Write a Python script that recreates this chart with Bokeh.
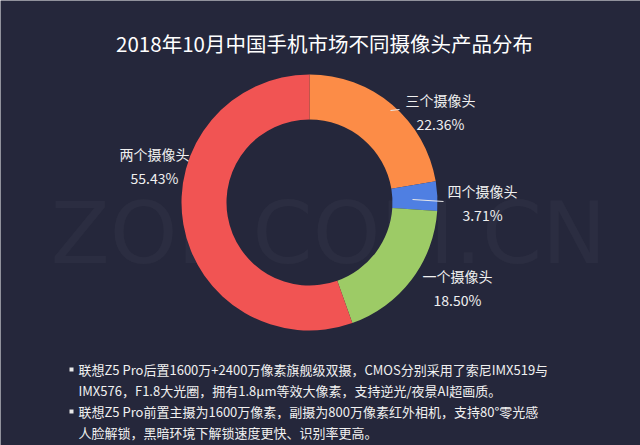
import numpy as np
from bokeh.plotting import figure
from bokeh.models import Range1d, ColumnDataSource
from bokeh.core.properties import value
from bokeh.embed import file_html
from bokeh.resources import INLINE

# ---------------- data ----------------
title = "2018年10月中国手机市场不同摄像头产品分布"
categories = ["三个摄像头", "四个摄像头", "一个摄像头", "两个摄像头"]
shares = [22.36, 3.71, 18.50, 55.43]
colors = ["#fc8c47", "#4f7fe2", "#9dcb66", "#f15453"]
notes = [
    "联想Z5 Pro后置1600万+2400万像素旗舰级双摄，CMOS分别采用了索尼IMX519与",
    "IMX576，F1.8大光圈，拥有1.8μm等效大像素，支持逆光/夜景AI超画质。",
    "联想Z5 Pro前置主摄为1600万像素，副摄为800万像素红外相机，支持80°零光感",
    "人脸解锁，黑暗环境下解锁速度更快、识别率更高。",
]
note_bullet = [True, False, True, False]
watermark = "ZOL.COM.CN"

# ---------------- layout (screen pixels) ----------------
W, H = 640, 445
BG = "#25273b"
CJK = "Noto Sans CJK SC"
cx, cy = 309, 202
r_out, r_in = 128, 83
# label block centres (x, y) per category
label_xy = [(440, 111), (482, 202), (457, 287), (154, 165)]
label_gap = 12
# leader lines per category ((x0, y0), (x1, y1)) or None
leaders = [((390, 110), (399, 109)), ((412, 199), (443, 201)), None, None]


def Y(y):
    return H - y


p = figure(width=W, height=H, x_range=Range1d(0, W), y_range=Range1d(0, H),
           output_backend="svg", toolbar_location=None, min_border=0)
p.axis.visible = False
p.grid.visible = False
p.outline_line_color = None
p.background_fill_color = BG
p.border_fill_color = BG

# watermark
p.text(x=[328], y=[Y(232)], text=[watermark], text_font=value("DejaVu Sans"),
       text_font_size="86px", text_color="#ffffff", text_alpha=0.03,
       text_align="center", text_baseline="middle")

# donut
vals = np.array(shares, dtype=float)
frac = vals / vals.sum()
cum_end = np.cumsum(frac)
cum_start = cum_end - frac
start_angle = np.pi / 2 - 2 * np.pi * cum_end
end_angle = np.pi / 2 - 2 * np.pi * cum_start
src = ColumnDataSource(dict(start=start_angle, end=end_angle, color=colors))
p.annular_wedge(x=cx, y=Y(cy), inner_radius=r_in, outer_radius=r_out,
                start_angle="start", end_angle="end", fill_color="color",
                line_color=None, source=src)

# leader lines
for seg in leaders:
    if seg is None:
        continue
    (x0, y0), (x1, y1) = seg
    p.line([x0, x1], [Y(y0), Y(y1)], line_color="#e8e8e8", line_width=1)

# labels
for cat, v, (lx, ly) in zip(categories, shares, label_xy):
    p.text(x=[lx, lx], y=[Y(ly - label_gap), Y(ly + label_gap)],
           text=[cat, f"{v:.2f}%"], text_font=value(CJK), text_font_size="14px",
           text_color="#f0f0f0", text_align="center", text_baseline="middle")

# title
p.text(x=[324], y=[Y(42)], text=[title], text_font=value(CJK),
       text_font_size="20.5px", text_color="#ffffff", text_align="center",
       text_baseline="middle")

# notes
note_y0, note_dy = 369, 21
for i, (line, b) in enumerate(zip(notes, note_bullet)):
    yy = Y(note_y0 + i * note_dy)
    if b:
        p.scatter(x=[71], y=[yy], marker="square", size=4, fill_color="#e8e8e8",
                  line_color=None)
    p.text(x=[78], y=[yy], text=[line], text_font=value(CJK),
           text_font_size="13px", text_color="#f0f0f0", text_align="left",
           text_baseline="middle")

open("out.html", "w").write(file_html(p, INLINE))
